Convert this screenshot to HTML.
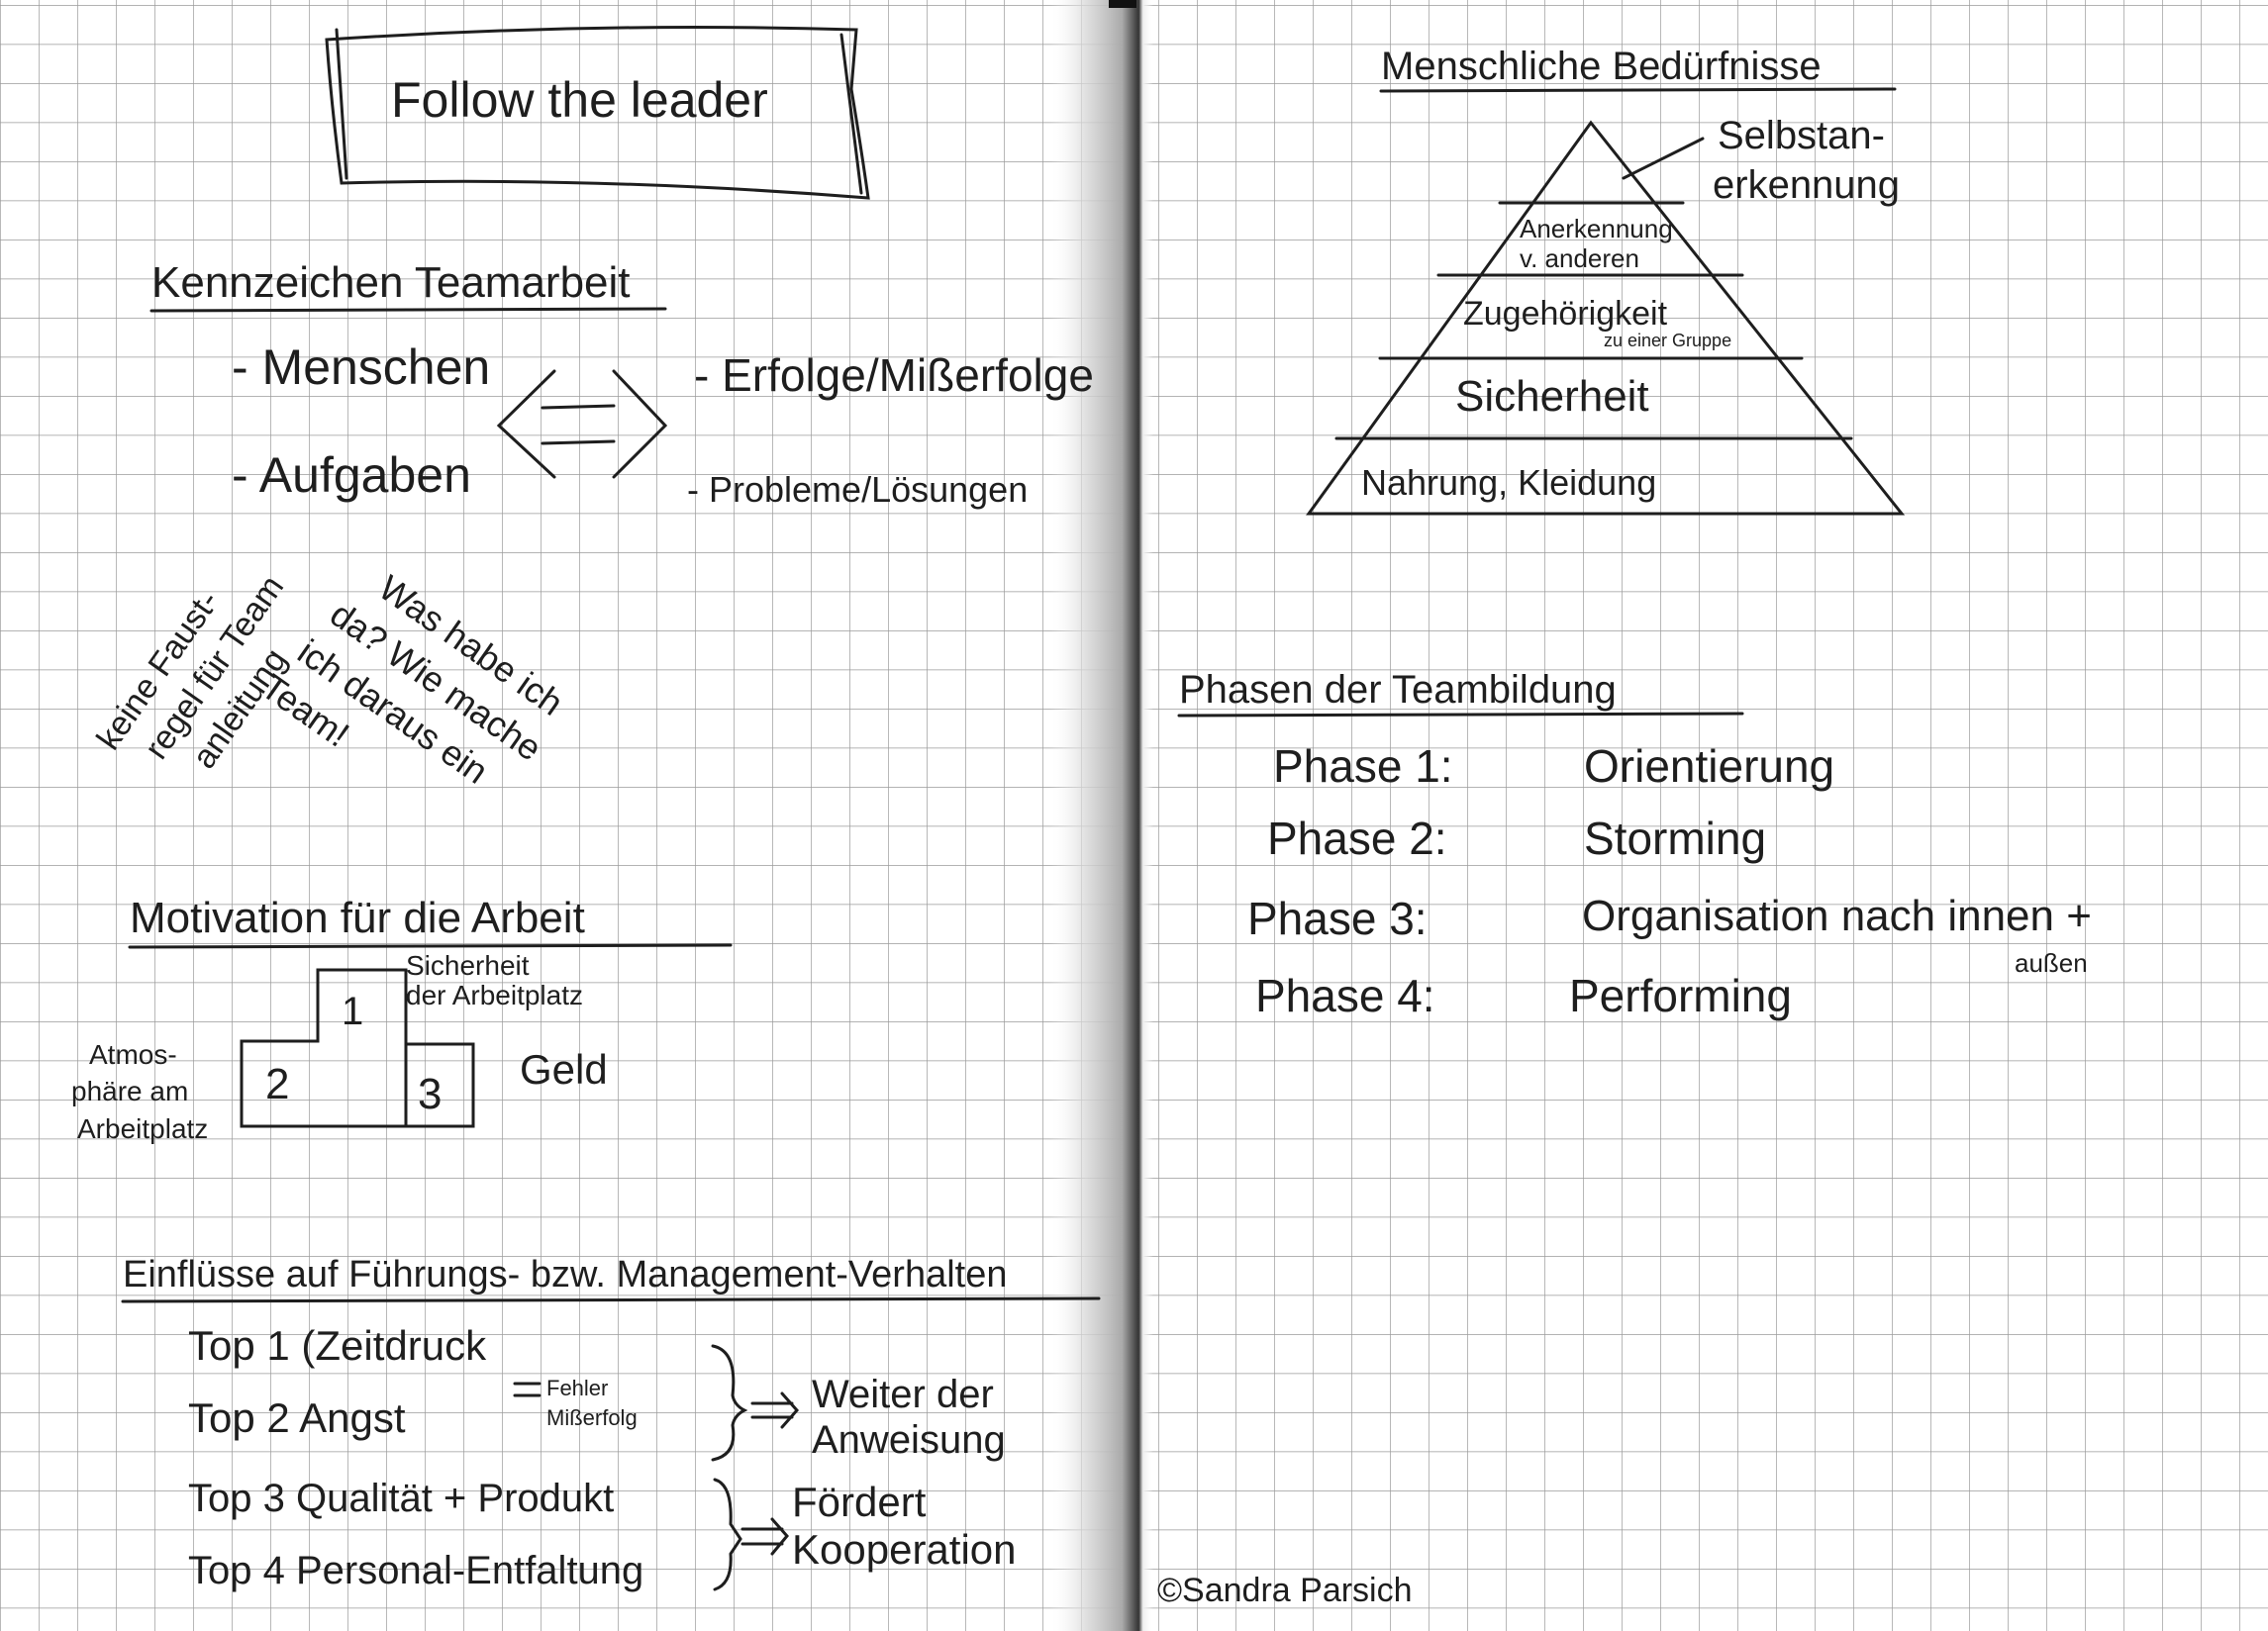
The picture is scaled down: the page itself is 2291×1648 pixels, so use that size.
<!DOCTYPE html>
<html><head><meta charset="utf-8"><style>
html,body{margin:0;padding:0;background:#fff;}
svg{display:block}
text{font-family:"Liberation Sans",sans-serif;fill:#1e1e1e;}
</style></head><body>
<svg width="2291" height="1648" viewBox="0 0 2291 1648" xmlns="http://www.w3.org/2000/svg">
<defs>
<pattern id="g" width="39" height="39.5" patternUnits="userSpaceOnUse" x="0" y="5">
<path d="M0 0H39M0 0V39.5" stroke="#9a9a9a" stroke-width="1.4" fill="none"/>
</pattern>
<linearGradient id="sp" x1="0" x2="1">
<stop offset="0" stop-color="#fff" stop-opacity="0"/>
<stop offset="0.35" stop-color="#d8d8d8" stop-opacity="0.8"/>
<stop offset="0.7" stop-color="#aaa"/>
<stop offset="0.86" stop-color="#333"/>
<stop offset="0.9" stop-color="#eee"/>
<stop offset="1" stop-color="#fff" stop-opacity="0"/>
</linearGradient>
</defs>
<rect width="2291" height="1648" fill="url(#g)"/>
<rect x="1060" y="0" width="105" height="1648" fill="url(#sp)"/>
<rect x="1120" y="0" width="28" height="8" fill="#111"/>

<g stroke="#1e1e1e" stroke-width="3" fill="none" stroke-linecap="round">
<!-- title banner -->
<path d="M330 40 Q600 22 865 30 L860 90 Q870 150 877 200 Q600 178 345 185 Q335 110 330 40Z"/>
<path d="M340 30 L350 180 M850 35 L870 195"/>
<!-- underlines -->
<path d="M153 314 L672 312"/>
<path d="M131 957 L738 955"/>
<path d="M124 1315 L1110 1312"/>
<path d="M1395 92 L1914 90"/>
<path d="M1191 723 L1760 721"/>
<!-- arrow -->
<path d="M560 375 L504 430 L560 482"/>
<path d="M620 375 L672 430 L620 482"/>
<path d="M548 412 L620 410 M548 448 L620 446"/>
<!-- podium -->
<path d="M321 1030 L321 980 L410 980 L410 1055 L478 1055 L478 1138 L244 1138 L244 1052 L321 1052 L321 1030"/>
<path d="M410 1052 L410 1138"/>
<!-- pyramid -->
<path d="M1607 124 L1322 519 L1921 519 Z"/>
<path d="M1515 205 L1700 205"/>
<path d="M1453 278 L1760 278"/>
<path d="M1394 362 L1820 362"/>
<path d="M1350 443 L1870 443"/>
<path d="M1640 180 L1720 140"/>
<!-- braces -->
<path d="M720 1360 Q745 1365 740 1410 Q742 1420 752 1425 Q742 1430 740 1440 Q745 1470 720 1475"/>
<path d="M722 1495 Q740 1500 738 1540 L748 1555 L738 1570 Q740 1600 722 1606"/>
<path d="M760 1418 L800 1418 M760 1432 L800 1432 M790 1408 L805 1425 L790 1442"/>
<path d="M750 1545 L790 1545 M750 1560 L790 1560 M780 1535 L795 1552 L780 1570"/>
<path d="M520 1398 L545 1398 M520 1410 L545 1410"/>
</g>

<text x="395" y="118" font-size="50">Follow the leader</text>
<text x="153" y="300" font-size="44">Kennzeichen Teamarbeit</text>
<text x="234" y="388" font-size="50">- Menschen</text>
<text x="234" y="497" font-size="50">- Aufgaben</text>
<text x="701" y="395" font-size="46">- Erfolge/Mißerfolge</text>
<text x="694" y="507" font-size="36">- Probleme/Lösungen</text>

<g transform="translate(115,760) rotate(-55)"><text font-size="34" x="0" y="0">keine Faust-</text><text font-size="34" x="20" y="45">regel für Team</text><text font-size="34" x="40" y="90">anleitung</text></g>
<g transform="translate(380,600) rotate(35)"><text font-size="36" x="0" y="0">Was habe ich</text><text font-size="36" x="-25" y="50">da? Wie mache</text><text font-size="36" x="-30" y="100">ich daraus ein</text><text font-size="36" x="-40" y="150">Team!</text></g>

<text x="131" y="942" font-size="44">Motivation für die Arbeit</text>
<text x="345" y="1035" font-size="40">1</text>
<text x="268" y="1110" font-size="44">2</text>
<text x="422" y="1120" font-size="44">3</text>
<text x="410" y="985" font-size="28">Sicherheit</text>
<text x="410" y="1015" font-size="28">der Arbeitplatz</text>
<text x="525" y="1095" font-size="42">Geld</text>
<text x="90" y="1075" font-size="28">Atmos-</text>
<text x="72" y="1112" font-size="28">phäre am</text>
<text x="78" y="1150" font-size="28">Arbeitplatz</text>

<text x="124" y="1300" font-size="38">Einflüsse auf Führungs- bzw. Management-Verhalten</text>
<text x="190" y="1374" font-size="42">Top 1  (Zeitdruck</text>
<text x="190" y="1447" font-size="42">Top 2   Angst</text>
<text x="552" y="1410" font-size="22">Fehler</text>
<text x="552" y="1440" font-size="22">Mißerfolg</text>
<text x="820" y="1422" font-size="40">Weiter der</text>
<text x="820" y="1468" font-size="40">Anweisung</text>
<text x="190" y="1527" font-size="40">Top 3    Qualität + Produkt</text>
<text x="190" y="1600" font-size="40">Top 4  Personal-Entfaltung</text>
<text x="800" y="1532" font-size="42">Fördert</text>
<text x="800" y="1580" font-size="42">Kooperation</text>

<text x="1395" y="80" font-size="40">Menschliche Bedürfnisse</text>
<text x="1735" y="150" font-size="40">Selbstan-</text>
<text x="1730" y="200" font-size="40">erkennung</text>
<text x="1535" y="240" font-size="26">Anerkennung</text>
<text x="1535" y="270" font-size="26">v. anderen</text>
<text x="1478" y="328" font-size="34">Zugehörigkeit</text>
<text x="1620" y="350" font-size="18">zu einer Gruppe</text>
<text x="1470" y="415" font-size="44">Sicherheit</text>
<text x="1375" y="500" font-size="36">Nahrung, Kleidung</text>

<text x="1191" y="710" font-size="40">Phasen der Teambildung</text>
<text x="1286" y="790" font-size="46">Phase 1:</text><text x="1600" y="790" font-size="46">Orientierung</text>
<text x="1280" y="863" font-size="46">Phase 2:</text><text x="1600" y="863" font-size="46">Storming</text>
<text x="1260" y="944" font-size="46">Phase 3:</text><text x="1598" y="940" font-size="44">Organisation nach innen +</text>
<text x="2035" y="982" font-size="26">außen</text>
<text x="1268" y="1022" font-size="46">Phase 4:</text><text x="1585" y="1022" font-size="46">Performing</text>

<text x="1169" y="1618" font-size="34" fill="#444">©Sandra Parsich</text>
</svg>
</body></html>
